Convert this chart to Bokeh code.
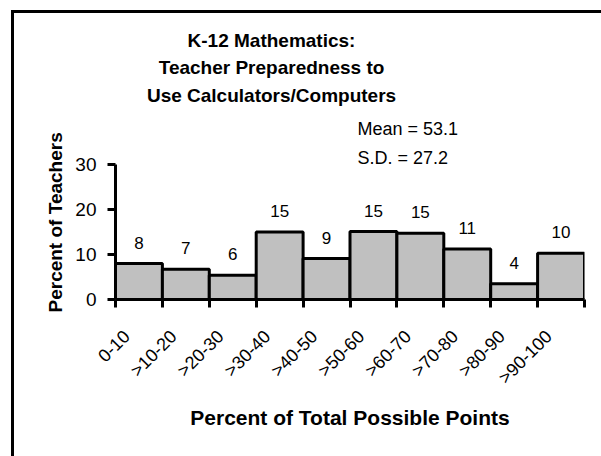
from math import pi
from bokeh.plotting import figure
from bokeh.models import Range1d, FixedTicker, Label, Title, ColumnDataSource
from bokeh.core.properties import value
from bokeh.embed import file_html
from bokeh.resources import INLINE

# ---- data ----
categories = ["0-10", ">10-20", ">20-30", ">30-40", ">40-50",
              ">50-60", ">60-70", ">70-80", ">80-90", ">90-100"]
percent_teachers = [8.0, 6.7, 5.4, 15.0, 9.1, 15.1, 14.7, 11.2, 3.5, 10.3]
value_labels = ["8", "7", "6", "15", "9", "15", "15", "11", "4", "10"]
y_ticks = [0, 10, 20, 30]
y_max = 30
title_lines = ["K-12 Mathematics:", "Teacher Preparedness to", "Use Calculators/Computers"]
stats_lines = ["Mean = 53.1", "S.D. = 27.2"]
x_title = "Percent of Total Possible Points"
y_title = "Percent of Teachers"

# ---- layout (pixels) ----
FONT = "Liberation Sans"
OFF_X, OFF_Y = 14, 13           # css margin (border drawn as shadow outside)
W, H = 601 - OFF_X, 456 - OFF_Y
FRAME_L, FRAME_R = 115, 584     # window px
AXIS_TOP, AXIS_BOTTOM = 164, 299
FRAME_TOP = OFF_Y
frame_h = AXIS_BOTTOM - FRAME_TOP
axis_h = AXIS_BOTTOM - AXIS_TOP
y_end = y_max * frame_h / axis_h
LABEL_SHIFT = 0.26              # rotated tick labels sit a little left of bar centre

n = len(categories)
centers = [i + 0.5 for i in range(n)]
label_pos = [c - LABEL_SHIFT for c in centers]
src = ColumnDataSource(dict(x=centers, top=percent_teachers, lab=value_labels))

p = figure(width=W, height=H, output_backend="svg", toolbar_location=None,
           x_range=Range1d(0, n), y_range=Range1d(0, y_end),
           min_border_left=FRAME_L - OFF_X, min_border_right=OFF_X + W - FRAME_R,
           min_border_top=0, min_border_bottom=H - frame_h)
p.styles = {"margin-left": f"{OFF_X}px", "margin-top": f"{OFF_Y}px",
            "box-shadow": "-1.5px -1.5px 0 1.5px black"}
p.outline_line_color = None
p.grid.visible = False
p.background_fill_color = "white"
p.border_fill_color = "white"

p.vbar(x="x", top="top", width=1, bottom=0, source=src,
       fill_color="#C0C0C0", line_color="black", line_width=3)
p.text(x="x", y="top", text="lab", source=src, y_offset=-21,
       text_align="center", text_baseline="middle",
       text_font=value(FONT), text_font_size="17px", text_color="black")

# x axis
xa = p.xaxis[0]
xa.ticker = FixedTicker(ticks=label_pos, minor_ticks=list(range(n + 1)))
xa.major_label_overrides = {c: lab for c, lab in zip(label_pos, categories)}
xa.major_tick_in = 0
xa.major_tick_out = 0
xa.minor_tick_in = 0
xa.minor_tick_out = 8
xa.minor_tick_line_width = 3
xa.minor_tick_line_color = "black"
xa.axis_line_width = 3
xa.axis_line_color = "black"
xa.major_label_orientation = pi / 4
xa.major_label_standoff = 26
xa.major_label_text_font = FONT
xa.major_label_text_font_size = "18px"
xa.major_label_text_color = "black"
xa.axis_label = x_title
xa.axis_label_text_font = FONT
xa.axis_label_text_font_style = "bold"
xa.axis_label_text_font_size = "21px"
xa.axis_label_text_color = "black"
xa.axis_label_standoff = 8

# y axis
ya = p.yaxis[0]
ya.bounds = (0, y_max)
ya.ticker = FixedTicker(ticks=y_ticks)
ya.minor_tick_line_color = None
ya.major_tick_in = 0
ya.major_tick_out = 8
ya.major_tick_line_width = 3
ya.axis_line_width = 3
ya.axis_line_color = "black"
ya.major_label_standoff = 11
ya.major_label_text_font = FONT
ya.major_label_text_font_size = "19px"
ya.major_label_text_color = "black"

# y title as a left-side title, so it can sit lower than the frame centre
p.add_layout(Title(text=y_title, align="left", offset=-13, standoff=14,
                   text_font=FONT, text_font_style="bold",
                   text_font_size="19px", text_color="black"), "left")

# title lines (screen units: from frame left / frame bottom)
title_y = [40, 67, 95]
for t, wy in zip(title_lines, title_y):
    p.add_layout(Label(x=271 - FRAME_L, y=AXIS_BOTTOM - wy, x_units="screen", y_units="screen",
                       text=t, text_align="center", text_baseline="middle",
                       text_font=FONT, text_font_style="bold",
                       text_font_size="19px", text_color="black"))

stats_y = [128, 157]
for t, wy in zip(stats_lines, stats_y):
    p.add_layout(Label(x=357 - FRAME_L, y=AXIS_BOTTOM - wy, x_units="screen", y_units="screen",
                       text=t, text_align="left", text_baseline="middle",
                       text_font=FONT, text_font_size="18px", text_color="black"))

open("out.html", "w").write(file_html(p, INLINE))
